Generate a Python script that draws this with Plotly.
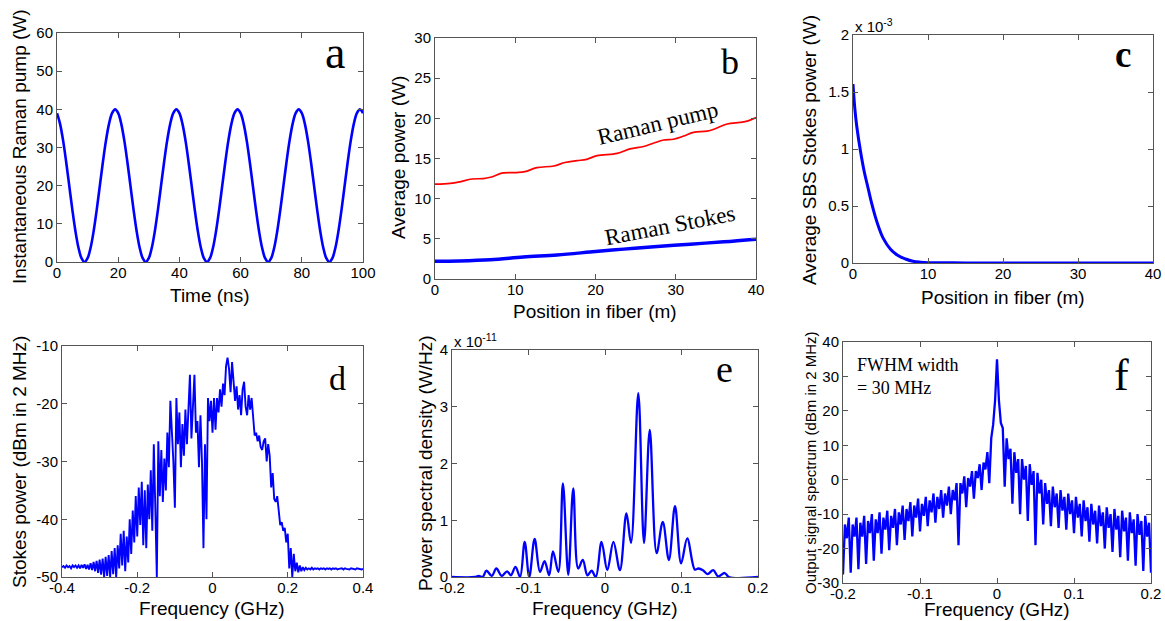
import plotly.graph_objects as go

W, H = 1165, 621

# ---------------- Panel a: instantaneous Raman pump ----------------
time_ns = list(range(0, 101))
pump_inst_w = [
    39.0, 36.2, 31.8, 26.2, 20.0, 13.8, 8.2, 3.8, 1.0, 0.0, 1.0, 3.8, 8.2, 13.8, 20.0, 26.2, 31.8, 36.2, 39.0, 40.0,
    39.0, 36.2, 31.8, 26.2, 20.0, 13.8, 8.2, 3.8, 1.0, 0.0, 1.0, 3.8, 8.2, 13.8, 20.0, 26.2, 31.8, 36.2, 39.0, 40.0,
    39.0, 36.2, 31.8, 26.2, 20.0, 13.8, 8.2, 3.8, 1.0, 0.0, 1.0, 3.8, 8.2, 13.8, 20.0, 26.2, 31.8, 36.2, 39.0, 40.0,
    39.0, 36.2, 31.8, 26.2, 20.0, 13.8, 8.2, 3.8, 1.0, 0.0, 1.0, 3.8, 8.2, 13.8, 20.0, 26.2, 31.8, 36.2, 39.0, 40.0,
    39.0, 36.2, 31.8, 26.2, 20.0, 13.8, 8.2, 3.8, 1.0, 0.0, 1.0, 3.8, 8.2, 13.8, 20.0, 26.2, 31.8, 36.2, 39.0, 40.0,
    39.0,
]

# ---------------- Panel b: average powers along fiber ----------------
pos_pump_m = [0, 1.9, 3.1, 4.6, 6.0, 6.9, 8.5, 10.2, 11.2, 12.7, 14.8, 16.2, 17.7, 18.9, 20.2, 22.7,
              24.3, 26.0, 27.2, 28.5, 29.7, 31.0, 32.2, 33.9, 34.9, 36.4, 38.0, 38.9, 40]
pump_avg_w = [11.8, 11.9, 12.1, 12.45, 12.5, 12.66, 13.2, 13.25, 13.36, 13.86, 14.07, 14.5, 14.73, 14.9, 15.35,
              15.64, 16.2, 16.5, 16.9, 17.3, 17.4, 17.8, 18.25, 18.4, 18.7, 19.3, 19.5, 19.65, 20.1]
pos_stokes_m = [0, 3, 6.9, 11, 15.2, 19.3, 23.5, 27.7, 31.8, 36, 40]
stokes_avg_w = [2.2, 2.25, 2.4, 2.73, 3.0, 3.35, 3.72, 4.05, 4.34, 4.63, 4.96]

# ---------------- Panel c: SBS Stokes power (units of 1e-3 W) ----------------
pos_sbs_m = [0, 0.25, 0.5, 1, 1.5, 2, 2.5, 3, 3.5, 4, 5, 6, 7, 8, 9, 10, 15, 20, 30, 40]
sbs_avg_mw = [1.57, 1.35, 1.2, 0.98, 0.8, 0.66, 0.52, 0.4, 0.3, 0.22, 0.12, 0.065, 0.035, 0.015,
              0.007, 0.003, 0.001, 0.0, 0.0, 0.0]

# ---------------- Panel d: Stokes spectrum (dBm in 2 MHz), -0.4..0.4 GHz step 0.004 ----------------
d_freq_start, d_freq_step = -0.4, 0.004
stokes_spec_dbm = [
    -48.3, -48.1, -48.4, -48.0, -48.3, -48.1, -48.5, -48.0, -48.3, -48.0,
    -48.4, -48.0, -48.5, -47.9, -48.4, -47.8, -48.6, -47.9, -48.7, -47.6,
    -48.8, -47.4, -49.0, -47.2, -49.3, -47.0, -49.6, -46.8, -50.0, -46.5,
    -49.8, -46.2, -50.0, -45.5, -49.5, -45.0, -50.0, -44.5, -48.5, -42.5,
    -48.0, -42.0, -49.0, -43.0, -47.5, -40.0, -46.0, -38.5, -44.0, -36.0,
    -43.0, -34.5, -41.0, -33.5, -44.5, -35.0, -45.0, -34.0, -40.0, -31.5,
    -42.0, -27.0, -38.0, -50.0, -26.5, -36.0, -28.0, -37.0, -29.5, -35.0,
    -25.0, -31.0, -19.5, -24.0, -30.0, -38.0, -19.0, -27.0, -21.5, -31.0,
    -23.5, -29.0, -21.0, -27.0, -22.0, -15.0, -26.0, -21.0, -15.0, -25.0,
    -23.0, -31.0, -22.0, -30.0, -45.0, -27.0, -40.0, -19.0, -23.0, -19.5,
    -25.0, -19.0, -24.5, -19.0, -21.5, -17.5, -20.5, -16.5, -18.5, -13.5,
    -12.0, -14.0, -18.0, -12.8, -15.5, -19.5, -17.0, -21.0, -18.5, -22.0,
    -17.5, -16.2, -20.5, -22.0, -18.5, -21.0, -19.0, -22.5, -25.5, -25.0,
    -26.5, -25.5, -27.5, -28.0, -26.5, -26.0, -30.0, -27.0, -29.0, -34.5,
    -32.0, -36.5, -37.0, -36.0, -39.0, -41.0, -40.5, -42.0, -41.5, -44.0,
    -42.5, -48.5, -45.0, -50.0, -46.0, -49.0, -47.5, -49.2, -48.0, -49.0,
    -48.3, -48.8, -48.4, -48.7, -48.5, -48.7, -48.4, -48.7, -48.5, -48.6,
    -48.5, -48.7, -48.5, -48.6, -48.5, -48.7, -48.5, -48.6, -48.5, -48.7,
    -48.5, -48.6, -48.5, -48.7, -48.6, -48.6, -48.5, -48.7, -48.5, -48.6,
    -48.6, -48.7, -48.5, -48.6, -48.6, -48.7, -48.5, -48.6, -48.6, -48.7,
    -48.6,
]
d_freq_ghz = [round(d_freq_start + d_freq_step * i, 4) for i in range(len(stokes_spec_dbm))]

# ---------------- Panel e: power spectral density (units of 1e-11 W/Hz) ----------------
e_freq_ghz = [-0.2, -0.17, -0.165, -0.16, -0.155, -0.148, -0.142, -0.135, -0.128, -0.123, -0.117, -0.111,
              -0.105, -0.099, -0.092, -0.085, -0.079, -0.073, -0.068, -0.061, -0.055, -0.048, -0.0415,
              -0.035, -0.029, -0.023, -0.0175, -0.012, -0.0045, 0.003, 0.011, 0.0195, 0.028, 0.034,
              0.0435, 0.051, 0.0585, 0.0675, 0.0755, 0.0835, 0.0915, 0.0995, 0.1075, 0.1175, 0.122,
              0.128, 0.134, 0.1415, 0.148, 0.1565, 0.162, 0.2]
psd_e11 = [0.0, 0.0, 0.02, 0.0, 0.11, 0.02, 0.15, 0.02, 0.10, 0.03, 0.18, 0.0,
           0.62, 0.0, 0.67, 0.09, 0.28, 0.03, 0.45, 0.09, 1.65, 0.04, 1.56,
           0.15, 0.30, 0.03, 0.11, 0.0, 0.62, 0.12, 0.62, 0.12, 1.12, 0.60,
           3.24, 0.60, 2.59, 0.42, 0.97, 0.30, 1.25, 0.24, 0.68, 0.13, 0.15,
           0.12, 0.05, 0.12, 0.01, 0.07, 0.0, 0.0]

# ---------------- Panel f: output signal spectrum, -0.2..0.2 GHz step 0.0025 ----------------
f_freq_start, f_freq_step = -0.2, 0.0025
signal_spec_dbm = [
    -27.5, -13, -17, -11, -27, -13, -16.5, -11, -26, -12.5, -16.5, -10.5,
    -24.5, -12, -15.5, -10, -23.5, -11.5, -15.5, -9.5, -21.5, -11, -14.5, -9,
    -20.5, -10.5, -14, -8.5, -19, -9.5, -13, -7.5, -17.5, -8.5, -12, -6.5,
    -16.5, -7.5, -11, -5.5, -15, -7, -10.5, -5, -13.5, -6, -9.5, -4,
    -12.5, -5, -8.5, -3, -11, -4, -7.5, -2, -10, -3, -6, -1,
    -19, -1, -4, 1, -8, 0.5, -2, 2.5, -5.5, 2.5, 0.5, 4.5,
    -3, 5, 3, 8, -1, 12, 16, 23,
    35,
    23, 16.5, 15,
    -2, 12, 6, 9, -7, 8, 2, 6, -10, 6, 0, 4, -12, 4.5, -1.5, 2.5,
    -19, 2, -4, 0, -13, -1, -7, -3, -13.5, -2, -8, -4, -14, -3, -9, -5,
    -14.5, -4, -10, -6, -15.5, -5, -11, -7, -16.5, -6, -12, -8, -18, -7, -13, -9,
    -18.5, -7.5, -13.5, -9.5, -20, -8, -14, -10, -21, -8.5, -14.5, -10.5,
    -22.5, -9, -15, -11, -23.5, -9.5, -15.5, -11.5, -25, -10, -16, -12,
    -26.5, -10.5, -16.5, -12.5, -27,
]
f_freq_ghz = [round(f_freq_start + f_freq_step * i, 5) for i in range(len(signal_spec_dbm))]

# ---------------- Tick labels ----------------
a_xticks = [0, 20, 40, 60, 80, 100]
a_yticks = [0, 10, 20, 30, 40, 50, 60]
b_xticks = [0, 10, 20, 30, 40]
b_yticks = [0, 5, 10, 15, 20, 25, 30]
c_xticks = [0, 10, 20, 30, 40]
c_yticks = [0, 0.5, 1, 1.5, 2]
c_yticktext = ["0", "0.5", "1", "1.5", "2"]
d_xticks = [-0.4, -0.2, 0, 0.2, 0.4]
d_xticktext = ["-0.4", "-0.2", "0", "0.2", "0.4"]
d_yticks = [-50, -40, -30, -20, -10]
d_yticktext = ["-50", "-40", "-30", "-20", "-10"]
e_xticks = [-0.2, -0.1, 0, 0.1, 0.2]
e_xticktext = ["-0.2", "-0.1", "0", "0.1", "0.2"]
e_yticks = [0, 1, 2, 3, 4]
f_xticks = [-0.2, -0.1, 0, 0.1, 0.2]
f_xticktext = ["-0.2", "-0.1", "0", "0.1", "0.2"]
f_yticks = [-30, -20, -10, 0, 10, 20, 30, 40]
f_yticktext = ["-30", "-20", "-10", "0", "10", "20", "30", "40"]

BLUE = "#0000FF"
RED = "#FF0000"
SANS = "Liberation Sans, Arial, sans-serif"
SERIF = "Liberation Serif, Times New Roman, serif"
FRAME = "#555555"


def fx(x):
    return x / W


def fy(y):
    return 1 - y / H


fig = go.Figure()

fig.add_trace(go.Scatter(x=time_ns, y=pump_inst_w, mode="lines", line=dict(color=BLUE, width=2.6, shape="spline"),
                         xaxis="x", yaxis="y"))
fig.add_trace(go.Scatter(x=pos_pump_m, y=pump_avg_w, mode="lines", line=dict(color=RED, width=1.7, shape="spline"),
                         xaxis="x2", yaxis="y2"))
fig.add_trace(go.Scatter(x=pos_stokes_m, y=stokes_avg_w, mode="lines", line=dict(color=BLUE, width=3.5, shape="spline"),
                         xaxis="x2", yaxis="y2"))
fig.add_trace(go.Scatter(x=pos_sbs_m, y=sbs_avg_mw, mode="lines", line=dict(color=BLUE, width=3, shape="spline"),
                         xaxis="x3", yaxis="y3"))
fig.add_trace(go.Scatter(x=d_freq_ghz, y=stokes_spec_dbm, mode="lines", line=dict(color=BLUE, width=1.9),
                         xaxis="x4", yaxis="y4"))
fig.add_trace(go.Scatter(x=e_freq_ghz, y=psd_e11, mode="lines", line=dict(color=BLUE, width=2.3, shape="spline"),
                         xaxis="x5", yaxis="y5"))
fig.add_trace(go.Scatter(x=f_freq_ghz, y=signal_spec_dbm, mode="lines", line=dict(color=BLUE, width=2.3),
                         xaxis="x6", yaxis="y6"))


def axis(domain, rng, tickvals, ticktext=None, anchor=None, standoff=0):
    d = dict(domain=domain, range=rng, tickvals=tickvals, showline=True, mirror="ticks", linecolor=FRAME,
             linewidth=1, ticks="inside", ticklen=5, tickcolor=FRAME, showgrid=False, zeroline=False,
             automargin=False, ticklabelstandoff=standoff,
             tickfont=dict(family=SANS, size=15, color="black"), anchor=anchor, fixedrange=True)
    if ticktext is not None:
        d["ticktext"] = ticktext
    return d


panels = {
    # name: (x0, x1, ytop, ybottom) in pixels
    "a": (57, 363, 33, 262),
    "b": (435, 756, 38, 279),
    "c": (853, 1153, 35, 263),
    "d": (62, 363, 346, 577),
    "e": (452, 758, 350, 577),
    "f": (843, 1151, 342, 583),
}


def dom(p):
    x0, x1, yt, yb = panels[p]
    return [fx(x0), fx(x1)], [fy(yb), fy(yt)]


xa, ya = dom("a")
xb, yb = dom("b")
xc, yc = dom("c")
xd, yd = dom("d")
xe, ye = dom("e")
xf, yf = dom("f")

XS = -3  # tick-label standoff for x axes

fig.update_layout(
    width=W, height=H, margin=dict(l=0, r=0, t=0, b=0, autoexpand=False),
    paper_bgcolor="white", plot_bgcolor="white", showlegend=False,
    font=dict(family=SANS, size=15, color="black"),
    xaxis=axis(xa, [0, 100], a_xticks, anchor="y", standoff=XS),
    yaxis=axis(ya, [0, 60], a_yticks, anchor="x"),
    xaxis2=axis(xb, [0, 40], b_xticks, anchor="y2", standoff=XS),
    yaxis2=axis(yb, [0, 30], b_yticks, anchor="x2"),
    xaxis3=axis(xc, [0, 40], c_xticks, anchor="y3", standoff=XS),
    yaxis3=axis(yc, [0, 2], c_yticks, c_yticktext, anchor="x3"),
    xaxis4=axis(xd, [-0.4, 0.4], d_xticks, d_xticktext, anchor="y4", standoff=XS),
    yaxis4=axis(yd, [-50, -10], d_yticks, d_yticktext, anchor="x4"),
    xaxis5=axis(xe, [-0.2, 0.2], e_xticks, e_xticktext, anchor="y5", standoff=XS),
    yaxis5=axis(ye, [0, 4], e_yticks, anchor="x5"),
    xaxis6=axis(xf, [-0.2, 0.2], f_xticks, f_xticktext, anchor="y6", standoff=XS),
    yaxis6=axis(yf, [-30, 40], f_yticks, f_yticktext, anchor="x6"),
)

ann = []


def title(text, x, y, size=19, angle=0):
    ann.append(dict(text=text, x=fx(x), y=fy(y), xref="paper", yref="paper", showarrow=False,
                    xanchor="center", yanchor="middle", textangle=angle,
                    font=dict(family=SANS, size=size, color="black")))


# axis titles
title("Time (ns)", 210, 295)
title("Instantaneous Raman pump (W)", 20, 147, angle=-90)
title("Position in fiber (m)", 595, 311)
title("Average power (W)", 398, 158, angle=-90)
title("Position in fiber (m)", 1003, 297)
title("Average SBS Stokes power (W)", 810, 150, angle=-90)
title("Frequency (GHz)", 212, 608)
title("Stokes power (dBm in 2 MHz)", 19, 462, angle=-90)
title("Frequency (GHz)", 605, 608)
title("Power spectral density (W/Hz)", 425, 463, angle=-90)
title("Frequency (GHz)", 997, 609)
title("Output signal spectrum (dBm in 2 MHz)", 810, 462, size=15, angle=-90)

# exponent labels
ann.append(dict(text="x 10<sup>-3</sup>", x=fx(853), y=fy(26), xref="paper", yref="paper", showarrow=False,
                xanchor="left", yanchor="middle", font=dict(family=SANS, size=15, color="black")))
ann.append(dict(text="x 10<sup>-11</sup>", x=fx(452), y=fy(340), xref="paper", yref="paper", showarrow=False,
                xanchor="left", yanchor="middle", font=dict(family=SANS, size=15, color="black")))


def label(text, x, y, xref, yref, size, angle=0, bold=False, xanchor="center"):
    t = "<b>%s</b>" % text if bold else text
    ann.append(dict(text=t, x=x, y=y, xref=xref, yref=yref, showarrow=False, xanchor=xanchor,
                    yanchor="middle", textangle=angle, font=dict(family=SERIF, size=size, color="black")))


# panel letters
label("a", 90.8, 55.0, "x", "y", 46)
label("b", 36.8, 27.0, "x2", "y2", 36)
label("c", 36.0, 1.83, "x3", "y3", 37, bold=True)
label("d", 0.331, -15.7, "x4", "y4", 34)
label("e", 0.1556, 3.66, "x5", "y5", 38)
label("f", 0.1617, 30.4, "x6", "y6", 44)

# in-plot texts
label("Raman pump", 27.7, 19.4, "x2", "y2", 23, angle=-13.5)
label("Raman Stokes", 29.3, 6.6, "x2", "y2", 23, angle=-11)
ann.append(dict(text="FWHM width<br>= 30 MHz", x=-0.184, y=30.0, xref="x6", yref="y6", showarrow=False,
                xanchor="left", yanchor="middle", align="left",
                font=dict(family=SERIF, size=18, color="black")))

fig.update_layout(annotations=ann)

fig.write_html("out.html", config={"displayModeBar": False},
               post_script="document.body.style.margin='0';document.body.style.padding='0';")
